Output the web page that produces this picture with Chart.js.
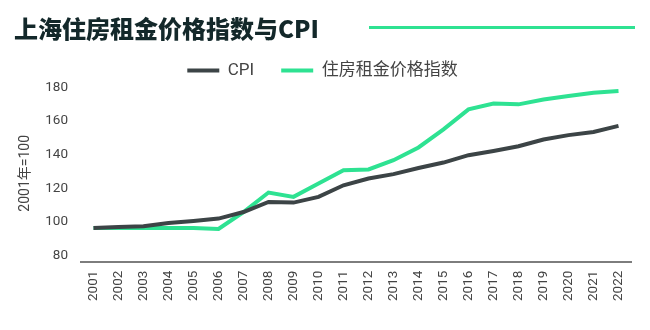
<!DOCTYPE html>
<html>
<head>
<meta charset="utf-8">
<script src="https://cdn.jsdelivr.net/npm/chart.js@4"></script>
<style>
  body { margin: 0; background: #fff; }
  #wrap { position: relative; width: 650px; height: 330px; overflow: hidden; }
  #chart { position: absolute; left: 0; top: 0; }
  #title {
    position: absolute; left: 14px; top: 10px; line-height: 32px;
    font: 900 24px 'Noto Sans CJK SC', sans-serif; color: #13282a;
  }
  #rule { position: absolute; left: 369px; top: 26px; width: 266px; height: 3px; background: #2ee292; }
</style>
</head>
<body>
<div id="wrap">
  <canvas id="chart" width="650" height="330"></canvas>
  <div id="title">上海住房租金价格指数与CPI</div>
  <div id="rule"></div>
</div>
<script>
// 2001年 = 100
const years = ['2001','2002','2003','2004','2005','2006','2007','2008','2009','2010','2011',
               '2012','2013','2014','2015','2016','2017','2018','2019','2020','2021','2022'];
const cpi  = [100, 100.6, 101, 103, 104.2, 105.6, 109.5, 115.5, 115.1, 118.5, 125.4,
              129.4, 132, 135.7, 138.9, 143.3, 145.8, 148.6, 152.6, 155.2, 157.1, 160.7];
const rent = [100, 100, 100, 100, 100, 99.4, 109.5, 121.1, 118.5, 126.4, 134.3,
              134.8, 140.3, 147.9, 158.6, 170.5, 174, 173.5, 176.4, 178.4, 180.4, 181.4];
const yTicks = [80, 100, 120, 140, 160, 180];

const dark = '#3c4446';
const green = '#2ee292';
const tickFont = { family: "Roboto, 'Noto Sans CJK SC'", size: 13.5 };

// shrink the space the legend reserves so the plot starts right under it
const legendSpace = {
  id: 'legendSpace',
  beforeInit(chart) {
    const fit = chart.legend.fit;
    chart.legend.fit = function () {
      fit.call(this);
      this.height = 50;
    };
  }
};

new Chart(document.getElementById('chart').getContext('2d'), {
  type: 'line',
  data: {
    labels: years,
    datasets: [
      { label: 'CPI', data: cpi, borderColor: dark, backgroundColor: dark },
      { label: '住房租金价格指数', data: rent, borderColor: green, backgroundColor: green }
    ]
  },
  options: {
    responsive: false,
    animation: false,
    layout: { padding: { top: 35, left: 14, right: 19, bottom: 20 } },
    elements: {
      line: { borderWidth: 4, tension: 0 },
      point: { radius: 0 }
    },
    plugins: {
      tooltip: { enabled: false },
      legend: {
        position: 'top',
        labels: {
          boxWidth: 32,
          boxHeight: 4,
          padding: 27,
          color: '#444',
          font: { family: "Roboto, 'Noto Sans CJK SC'", size: 17 },
          generateLabels(chart) {
            const items = Chart.defaults.plugins.legend.labels.generateLabels(chart);
            items.forEach(it => { it.lineWidth = 0; });
            return items;
          }
        }
      }
    },
    scales: {
      x: {
        offset: true,
        grid: { display: false, drawTicks: false },
        border: { display: true, color: '#7d7d7d', width: 2 },
        ticks: {
          minRotation: 90,
          maxRotation: 90,
          padding: 9,
          color: '#444',
          font: tickFont
        }
      },
      y: {
        min: 80,
        max: 185,
        afterBuildTicks(scale) { scale.ticks = yTicks.map(v => ({ value: v })); },
        afterFit(scale) { scale.width = 67; },
        grid: { display: false, drawTicks: false },
        border: { display: false },
        ticks: {
          padding: 13,
          labelOffset: -6,
          color: '#444',
          font: tickFont
        },
        title: {
          display: true,
          text: '2001年=100',
          color: '#444',
          padding: { top: 3, bottom: 0 },
          font: { family: "Roboto, 'Noto Sans CJK SC'", size: 14 }
        }
      }
    }
  },
  plugins: [legendSpace]
});
</script>
</body>
</html>
